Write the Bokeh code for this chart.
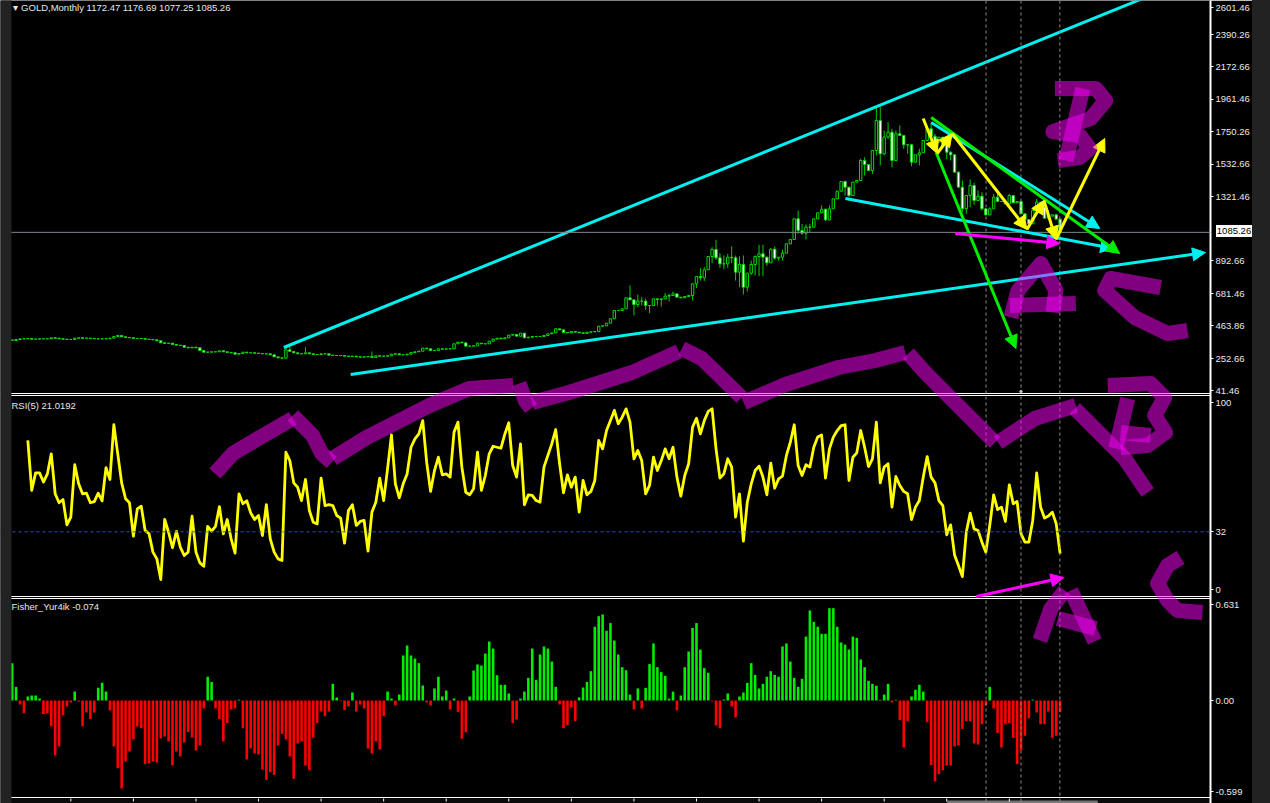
from bokeh.plotting import figure
from bokeh.models import (Range1d, LinearAxis, FixedTicker, Span, Label, Arrow, NormalHead, Div, ColumnDataSource)
from bokeh.layouts import row
from bokeh.embed import file_html
from bokeh.resources import INLINE

close = [
371.5,378.1,382.5,382.5,384.7,380.3,380.3,382.5,382.5,382.5,389.1,386.9,382.5,380.3,378.1,378.1,386.9,389.1,386.9,386.9,
384.7,382.5,382.5,382.5,382.5,386.9,397.9,404.5,395.7,391.3,389.1,384.7,384.7,384.7,380.3,378.1,375.9,369.3,356.1,351.7,
353.9,345.1,340.7,338.5,327.5,323.1,327.5,323.1,305.5,294.5,294.5,296.7,296.7,303.3,296.7,292.3,290.1,281.3,285.7,294.5,
290.1,290.1,287.9,285.7,283.5,283.5,276.9,263.7,257.1,254.9,309.9,298.9,290.1,283.5,283.5,290.1,283.5,279.1,279.1,283.5,
283.5,274.7,272.5,272.5,272.5,268.1,265.9,268.1,263.7,261.5,263.7,265.9,259.3,270.3,268.1,268.1,270.3,281.3,283.5,276.9,
276.9,281.3,292.3,296.7,301.1,
320.9,316.5,305.5,305.5,316.5,314.3,316.5,316.5,349.5,360.5,356.1,334.1,334.1,336.3,353.9,349.5,349.5,367.1,380.3,386.9,
382.5,389.1,406.7,411.1,400.1,420.1,389.1,393.5,397.9,397.9,397.9,404.5,415.5,422.1,448.5,441.9,424.3,422.1,430.9,426.5,
422.1,417.7,426.5,428.7,430.9,466.1,468.3,485.9,514.5,569.5,569.5,580.5,653.1,639.9,609.1,631.1,631.1,602.5,602.5,646.5,
642.1,646.5,664.1,668.5,679.5,657.5,653.1,661.9,668.5,745.5,793.9,785.1,837.9,925.9,972.1,917.1,877.5,877.5,921.5,917.1,
822.5,873.1,723.5,815.9,873.1,925.9,943.5,921.5,884.1,974.3,914.9,921.5,947.9,1009.5,1038.1,1174.5,1097.5,1079.9,1119.5,1119.5,
1174.5,1214.1,1238.3,1167.9,1240.5,1306.5,1357.1,
1420.9,1383.5,1328.5,1416.5,1427.5,1559.5,1533.1,1493.5,1625.5,1823.5,1603.5,1713.5,1746.5,1559.5,1735.5,1724.5,1662.9,1662.9,1548.5,1596.9,
1610.1,1691.5,1768.5,1720.1,1680.5,1713.5,1658.5,1614.5,1596.9,1482.5,1383.5,1240.5,1328.5,1394.5,1295.5,1324.1,1240.5,1200.9,1240.5,1317.5,
1288.9,1288.9,1273.5,1328.5,1280.1,1288.9,1207.5,1170.1,1141.5,1229.5,1284.5,1251.5,1178.9,1192.1,1200.9,1172.47,1085.26]

high_wicks = {70:327.5,71:334.0,75:327.5,92:298.9,158:734.5,160:675.0,161:657.5,162:646.5,167:686.0,168:679.5,169:694.9,
176:848.9,177:855.5,179:987.5,180:1035.9,181:947.9,182:932.5,183:943.5,184:991.9,185:932.5,186:925.9,187:932.5,
189:899.5,190:932.5,191:1002.9,192:1002.9,193:925.9,194:980.9,195:991.9,197:969.9,201:1229.5,202:1141.5,203:1137.1,
204:1141.5,207:1262.5,209:1262.5,213:1427.5,217:1570.5,218:1581.5,221:1911.5,222:1911.5,223:1757.5,224:1812.5,
225:1768.5,226:1757.5,227:1790.5,228:1728.9,230:1669.5,232:1636.5,235:1801.5,236:1735.5,239:1702.5,240:1618.9,
242:1486.9,243:1427.5,245:1434.1,246:1412.1,247:1361.5,248:1350.5,250:1251.5,251:1339.5,252:1339.5,255:1339.5,
258:1295.5,262:1306.5,265:1229.5,267:1207.5,268:1176.69}
low_wicks = {70:252.6,159:536.5,160:591.5,161:602.5,162:573.9,163:551.9,165:602.5,166:595.9,168:628.9,174:635.5,175:716.9,
176:767.5,177:763.1,179:881.9,180:903.9,181:851.1,182:842.3,183:851.1,184:881.9,185:767.5,186:723.5,187:675.1,188:694.9,
189:804.9,190:800.5,191:796.1,192:796.1,193:864.3,195:903.9,196:899.5,197:899.5,201:1075.5,202:1068.9,203:1038.1,
204:1086.5,208:1159.1,209:1163.5,213:1328.5,214:1317.5,218:1460.5,220:1471.5,221:1592.5,222:1526.5,223:1592.5,
224:1702.5,225:1515.5,226:1559.5,228:1636.5,229:1603.5,230:1522.1,231:1544.1,232:1526.5,239:1570.5,240:1559.5,
243:1218.5,244:1207.5,245:1251.5,246:1266.9,248:1229.5,249:1196.5,250:1200.9,268:1077.25}

rsi = [
77.9,52.8,61.6,61.6,57.0,61.1,71.2,51.1,46.6,48.2,35.5,39.4,65.7,56.1,51.1,51.4,46.6,47.2,51.4,47.6,
64.2,58.3,85.8,71.2,56.6,48.6,46.6,29.8,43.5,44.9,32.7,31.0,21.8,18.4,8.0,38.2,31.8,24.0,32.2,24.3,
20.1,21.8,39.9,21.8,16.4,14.7,34.7,32.3,34.7,44.7,31.0,38.2,28.5,21.3,51.1,46.1,47.6,41.5,38.2,40.2,
30.1,45.7,28.5,21.8,18.4,17.6,72.0,67.8,56.6,54.4,47.7,58.3,42.7,36.8,36.0,59.0,45.2,45.7,45.2,40.2,
38.9,26.3,42.7,45.6,35.2,37.2,37.7,22.3,41.9,46.9,59.0,47.7,63.7,80.7,56.1,49.1,56.1,61.1,74.5,78.7,
81.2,87.9,67.0,52.3,62.8,69.5,60.6,61.1,59.5,82.1,87.1,64.5,51.9,50.6,53.6,72.0,52.8,60.3,71.2,75.0,
74.5,74.0,81.2,86.8,65.3,59.5,76.2,45.6,50.6,50.3,47.7,46.9,64.5,70.4,76.2,83.4,66.2,51.6,60.6,54.4,
59.5,41.9,57.8,50.6,52.3,57.8,77.9,73.7,82.9,87.9,93.0,86.3,89.6,93.8,87.1,68.7,72.9,67.8,51.1,55.3,
69.5,62.8,67.8,73.7,68.7,74.5,59.5,49.9,60.3,66.2,84.6,89.1,81.2,87.9,92.5,93.8,73.7,59.0,61.1,68.7,
64.5,39.4,51.1,27.3,46.9,56.1,62.8,65.0,59.5,50.6,66.5,53.9,58.6,60.0,70.4,77.0,85.8,65.3,60.3,65.7,
64.5,74.5,79.6,80.7,59.0,73.7,79.6,82.9,85.4,85.8,57.8,69.5,71.7,82.9,74.5,64.8,68.7,87.1,56.6,64.5,
66.2,44.4,59.8,55.3,52.3,51.1,38.2,44.4,47.7,59.5,69.8,59.5,56.6,47.7,45.2,30.5,35.5,20.4,15.1,9.5,
31.8,41.4,33.5,32.7,26.8,21.8,35.2,50.6,43.2,44.4,37.2,55.6,46.1,47.2,31.0,26.8,26.8,37.7,61.6,44.4,
38.9,39.9,41.9,36.0,21.0192]
rsi_first_bar = 4

fisher = [
.233,.085,-.025,-.079,.025,.031,.031,.012,-.085,-.079,-.16,-.343,-.287,-.094,-.037,-.012,.056,-.006,-.16,-.075,
-.116,-.075,.079,.11,.056,-.062,-.287,-.422,-.549,-.381,-.318,-.243,-.162,-.173,-.397,-.391,-.381,-.387,-.237,-.225,
-.256,-.406,-.318,-.349,-.262,-.196,-.231,-.312,-.281,-.05,.148,.116,-.05,-.116,-.256,-.141,-.056,-.05,.004,-.173,
-.368,-.3,-.331,-.337,-.431,-.495,-.447,-.464,-.281,-.208,-.243,-.349,-.489,-.268,-.256,-.406,-.435,-.231,-.141,-.069,
-.098,-.069,.104,.019,-.004,-.06,-.037,.05,-.069,-.025,-.05,-.3,-.331,-.256,-.306,-.098,.056,.012,-.031,.037,
.281,.343,.281,.262,.233,.094,-.012,
-.031,.075,.148,.025,.062,-.056,.012,-.071,-.239,-.198,.025,.187,.225,.218,.293,.368,.324,.158,.098,.098,
.044,-.141,-.119,.012,.056,.141,.324,.129,.287,.337,.324,.243,.085,-.025,-.173,-.154,-.044,-.129,.019,.081,
.116,.183,.46,.526,.537,.435,.483,.374,.287,.208,.189,.037,-.056,.075,-.05,.079,.227,.356,.208,.177,
.154,.012,.056,-.062,.031,.208,.306,.453,.483,.318,.202,.173,-.006,-.156,-.173,.006,.044,-.037,-.106,.025,
.05,.11,.233,.16,.075,.104,.148,.183,.16,.148,.337,.356,.243,.141,.085,.135,.399,.562,.491,.46,
.416,.416,.576,.576,.46,.362,.349,
.318,.399,.391,.256,.208,.123,.104,.092,.004,.037,.104,-.012,.004,-.123,-.293,-.129,.025,.067,.098,.056,
-.135,-.404,-.505,-.46,-.435,-.406,-.406,-.287,-.281,-.177,-.129,-.129,-.268,-.275,-.148,-.031,.085,-.05,-.202,-.293,
-.148,-.141,-.233,-.397,-.312,-.22,-.11,.004,-.075,-.148,-.148,-.069,-.233,-.22,-.074]

axis_labels = ["2601.46","2390.26","2172.66","1961.46","1750.26","1532.66","1321.46","892.66","681.46","463.86","252.66","41.46",
               "100","32","0","0.631","0.00","-0.599"]
axis_label_y = [7,34,66,98.5,131,163.5,196,260,293,325,358,390,402,531,589,604,700,791]
time_tick_bars = list(range(15, 256, 16))
last_price_tag = "1085.26"

cyan_lines = [([284,1145],[347,-2]),]
cyan_arrows = [(351,374,1208,252),(847,198,1116,248),(933,122,1102,228)]
green_arrows = [(933,117,1122,253),(938,152,1018,348)]
yellow_arrows = [(925,118,939,153),(939,153,954,133),(954,133,1029,229),(1029,229,1046,200),(1046,200,1058,239),(1058,239,1107,138)]
magenta_arrows = [(957,233,1062,243),(978,596,1066,577)]

hand_strokes = [
 [(215,473),(233,453),(260,437),(293,418)],
 [(293,415),(313,435),(322,453),(332,462)],
 [(333,458),(367,437),(430,405),(470,388),(514,385)],
 [(520,383),(526,400),(532,408)],
 [(533,402),(570,392),(633,372),(680,351)],
 [(683,348),(703,358),(743,397)],
 [(745,402),(787,384),(840,367),(877,360),(907,352)],
 [(910,353),(927,372),(950,395),(997,442)],
 [(1000,442),(1037,418),(1078,405)],
 [(1077,408),(1127,458),(1150,492)],
 [(1057,88),(1098,88),(1108,100),(1093,118),(1055,131),(1082,135),(1092,148),(1082,157),(1060,160)],
 [(1085,88),(1068,160)],
 [(1013,317),(1020,290),(1043,263),(1058,290),(1055,312)],
 [(1012,305),(1078,303)],
 [(1163,287),(1113,278),(1107,290),(1137,317),(1170,333),(1190,330)],
 [(1130,398),(1118,448)],
 [(1110,385),(1153,383),(1167,397),(1157,415),(1168,432),(1150,445),(1123,447)],
 [(1123,432),(1153,435)],
 [(1042,640),(1053,608),(1067,590)],
 [(1073,590),(1097,641)],
 [(1060,618),(1098,628)],
 [(1183,557),(1170,565),(1160,583),(1170,600),(1180,610),(1205,612)],
]

if not (len(close) == len(fisher) == len(rsi) + rsi_first_bar):
    raise SystemExit(f"lengths {len(close)} {len(fisher)} {len(rsi)}")

# frame edges in page pixels
L, R, T, B = 0, 1213, 0, 803
bar0, step = 11.7, 3.92
bx = lambda px: (px - bar0) / step
price_at = lambda y: 41.46 + (390 - y) * 6.6
rsi_at = lambda y: (595 - y) / 1.99
fisher_at = lambda y: (700 - y) * 0.00624

p = figure(width=1252, height=803, output_backend="svg", toolbar_location=None,
           x_range=Range1d(L, R), y_range=Range1d(B, T),
           background_fill_color="black", border_fill_color="black", outline_line_color=None,
           min_border_left=0, min_border_top=0, min_border_bottom=0, min_border_right=39)
p.xaxis.visible = False
p.yaxis.visible = False
p.grid.visible = False
p.extra_x_ranges = {"bar": Range1d(bx(L), bx(R))}
p.extra_y_ranges = {"price": Range1d(price_at(B), price_at(T)),
                    "rsi": Range1d(rsi_at(B), rsi_at(T)),
                    "fisher": Range1d(fisher_at(B), fisher_at(T))}

axis = LinearAxis(ticker=FixedTicker(ticks=axis_label_y),
                  major_label_overrides=dict(zip(axis_label_y, axis_labels)),
                  axis_line_color="white", axis_line_width=2,
                  major_tick_line_color="white", major_tick_in=0, major_tick_out=3,
                  minor_tick_line_color=None, major_label_standoff=2,
                  major_label_text_color="#e8e8e8", major_label_text_font="Liberation Sans",
                  major_label_text_font_size="9.5px")
p.add_layout(axis, "right")

# left strip of the terminal window
p.quad(left=[L], right=[11], top=[T], bottom=[B], fill_color="#222222", line_color=None, level="overlay")
# scroller at the very bottom
p.quad(left=[949], right=[1100], top=[800], bottom=[803], fill_color="#777777", line_color=None)
p.quad(left=[11], right=[1213], top=[798], bottom=[803], fill_color="#0a0a0a", line_color=None, level="underlay")

# candles
bars = list(range(len(close)))
opens = [close[0] + 4] + close[:-1]
opens[-1] = 1172.47
highs = [high_wicks.get(i, max(opens[i], close[i])) for i in bars]
lows = [low_wicks.get(i, min(opens[i], close[i])) for i in bars]
fills = ["black" if close[i] > opens[i] else "white" for i in bars]
src = ColumnDataSource(dict(x=bars, o=opens, c=close, h=highs, l=lows, f=fills))
p.segment("x", "l", "x", "h", source=src, x_range_name="bar", y_range_name="price", line_color="#00cc00", line_width=1)
p.vbar(x="x", width=0.62, bottom="o", top="c", source=src, x_range_name="bar", y_range_name="price",
       fill_color="f", line_color="#00d800", line_width=1)

# last price line
p.add_layout(Span(location=close[-1], dimension="width", y_range_name="price", line_color="#808890", line_width=1))

# RSI
p.line(list(range(rsi_first_bar, len(close))), rsi, x_range_name="bar", y_range_name="rsi",
       line_color="#ffff00", line_width=2.8, line_join="round")
p.add_layout(Span(location=32, dimension="width", y_range_name="rsi", line_color="#2a50c8", line_width=1, line_dash="3 3"))

# Fisher
p.vbar(x=bars, width=0.66, bottom=0, top=fisher, x_range_name="bar", y_range_name="fisher",
       fill_color=["#00ee00" if v > 0 else "#ff0000" for v in fisher], line_color=None)

# separators and period lines
for y in (393, 395, 596, 598, 797):
    p.add_layout(Span(location=y, dimension="width", line_color="white", line_width=1))
for x in (988, 1023, 1062):
    p.add_layout(Span(location=x, dimension="height", line_color="#8c8c8c", line_width=1, line_dash="3 3"))
p.scatter([1023], [391], size=3, fill_color="white", line_color=None)

# time-axis tick marks
p.segment(x0=time_tick_bars, x1=time_tick_bars, y0=[798]*len(time_tick_bars), y1=[801]*len(time_tick_bars),
          x_range_name="bar", line_color="white", line_width=1)

# drawn trend lines and arrows
for xs, ys in cyan_lines:
    p.line(xs, ys, line_color="#00f0f0", line_width=3)
for col, items in (("#00f0f0", cyan_arrows), ("#00ee00", green_arrows), ("#ffff00", yellow_arrows), ("#ff00ff", magenta_arrows)):
    for x0, y0, x1, y1 in items:
        p.add_layout(Arrow(x_start=x0, y_start=y0, x_end=x1, y_end=y1, line_color=col, line_width=3,
                           end=NormalHead(size=13, fill_color=col, line_color=col, line_width=1)))

# hand-drawn wave marks
for s in hand_strokes:
    p.line([q[0] for q in s], [q[1] for q in s], line_color="#ff00ff", line_alpha=0.5, line_width=15,
           line_join="round", line_cap="butt", level="overlay")

# texts
def label(x, y, text, **kw):
    p.add_layout(Label(x=x, y=y, text=text, text_color=kw.pop("color", "#e8e8e8"), text_font="Liberation Sans",
                       text_font_size="9.5px", text_baseline="middle", **kw))
label(13, 7, "\u25be GOLD,Monthly  1172.47 1176.69 1077.25 1085.26")
label(11, 404.5, "RSI(5) 21.0192")
label(11, 606, "Fisher_Yur4ik -0.074")

tag = ('<div style="position:absolute;left:-36px;top:225px;width:36px;height:12px;background:white;color:black;'
       'font:9.5px/12px \'Liberation Sans\';text-align:center;">%s</div>' % last_price_tag)
strip = Div(text=tag, width=18, height=803, margin=0,
            styles={"background-color": "#222222", "height": "803px", "overflow": "visible", "position": "relative", "z-index": "5"})
page = row(p, strip, spacing=0)
open("out.html", "w").write(file_html(page, INLINE))
